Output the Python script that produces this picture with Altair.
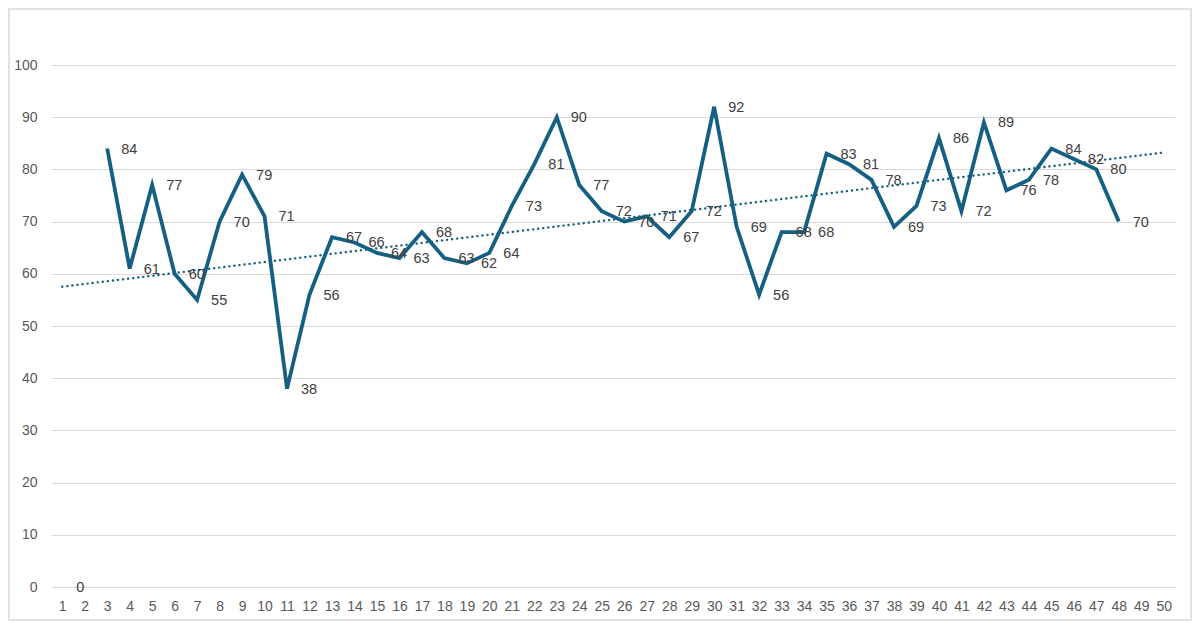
import altair as alt
import pandas as pd

x_vals = list(range(1, 51))
y_vals = [0, None, 84, 61, 77, 60, 55, 70, 79, 71, 38, 56, 67, 66, 64, 63, 68, 63, 62, 64,
          73, 81, 90, 77, 72, 70, 71, 67, 72, 92, 69, 56, 68, 68, 83, 81, 78, 69, 73, 86,
          72, 89, 76, 78, 84, 82, 80, 70, None, None]
y_ticks = list(range(0, 101, 10))

df = pd.DataFrame({"x": x_vals, "y": y_vals})

COLOR = "#156082"
FONT = "Liberation Sans"
W, H = 1124, 522
PL, PT, PR, PB = 43, 57, 17, 34

xs = alt.X("x:Q", scale=alt.Scale(domain=[0.5, 50.5], nice=False, zero=False),
           axis=alt.Axis(values=x_vals, format="d", grid=False, domain=False, ticks=False,
                         labelPadding=12, labelFontSize=14, labelColor="#595959",
                         labelFont=FONT, title=None, labelFlush=False))
ys = alt.Y("y:Q", scale=alt.Scale(domain=[0, 100], nice=False),
           axis=alt.Axis(values=y_ticks, grid=True, gridColor="#d9d9d9", gridWidth=1,
                         domain=False, ticks=False, labelPadding=14, labelFontSize=14,
                         labelColor="#595959", labelFont=FONT, title=None))

base = alt.Chart(df)

frame = alt.Chart(pd.DataFrame({"k": [0]})).mark_rect(
    fill="transparent", stroke="#d9d9d9", strokeWidth=1.5
).encode(x=alt.value(-PL + 1), x2=alt.value(W + PR - 1),
         y=alt.value(-PT + 1), y2=alt.value(H + PB - 1))

line = base.mark_line(color=COLOR, strokeWidth=3.8, strokeJoin="miter",
                      invalid="break-paths-show-domains").encode(x=xs, y=ys)

trend = base.transform_filter("isValid(datum.y)").transform_regression(
    "x", "y", extent=[1, 50]
).mark_line(color=COLOR, strokeWidth=2.4, strokeDash=[0.1, 5], strokeCap="round").encode(x=xs, y=ys)

labels = base.transform_filter("isValid(datum.y)").mark_text(
    align="left", baseline="middle", dx=14, dy=1, fontSize=14.5, color="#404040", font=FONT
).encode(x=xs, y=ys, text=alt.Text("y:Q", format="d"))

chart = alt.layer(frame, line, trend, labels).properties(
    width=W, height=H,
    autosize=alt.AutoSizeParams(type="none"),
    padding={"left": PL, "top": PT, "right": PR, "bottom": PB},
).configure(background="white").configure_view(
    stroke="transparent", strokeWidth=0, strokeOpacity=0
).configure_axis(domain=False, ticks=False).configure_axisX(grid=False)

chart.save("out.html", embed_options={"renderer": "svg", "actions": False})
